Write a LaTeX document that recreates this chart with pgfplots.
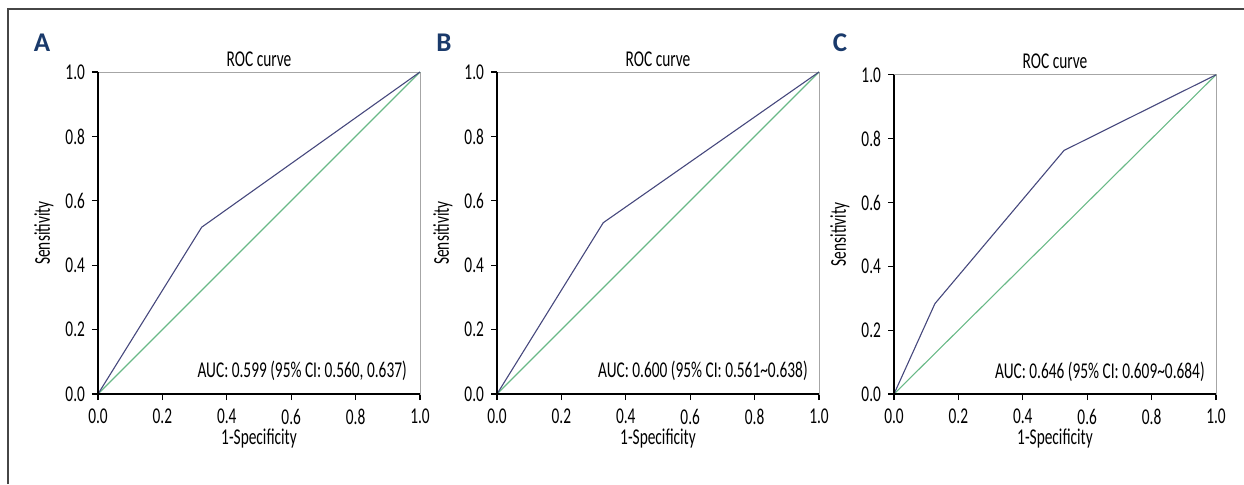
\documentclass[border=0pt]{standalone}
\usepackage{fontspec}
\setmainfont{Carlito}[FakeStretch=0.68]
\newfontfamily\lblfont{Carlito}
\usepackage{pgfplots}
\pgfplotsset{compat=1.18}

\definecolor{rocline}{RGB}{70,72,125}
\definecolor{refline}{RGB}{105,185,135}
\definecolor{lblblue}{RGB}{26,58,107}
\definecolor{framegray}{RGB}{70,70,70}

\pgfplotsset{
  rocaxis/.style={
    scale only axis, width=161pt, height=161pt,
    xmin=0, xmax=1, ymin=0, ymax=1,
    xtick={0,0.2,0.4,0.6,0.8,1}, ytick={0,0.2,0.4,0.6,0.8,1},
    xtick pos=left, ytick pos=left, tick align=outside,
    major tick length=3pt,
    every tick/.style={black, line width=0.6pt},
    axis line style={gray!70, line width=0.5pt},
    xticklabel style={yshift=-1pt},
    /pgf/number format/.cd, fixed, fixed zerofill, precision=1, assume math mode=true,
    /pgfplots/.cd,
    title={ROC curve}, xlabel={1-Specificity}, ylabel={Sensitivity},
    every axis title/.style={at={(axis description cs:0.5,1)}, anchor=base, yshift=3pt},
    every axis x label/.style={at={(axis description cs:0.5,-0.158)}, anchor=base},
    every axis y label/.style={at={(axis description cs:-0.168,0.5)}, rotate=90, anchor=center},
    clip=false,
  },
  roc/.style={rocline, line width=0.55pt},
  diag/.style={refline, line width=0.55pt},
}

\begin{document}
\begin{tikzpicture}[font=\fontsize{11.3}{13}\selectfont]
\path[use as bounding box] (0,0) rectangle (622pt,242pt);
\draw[framegray, line width=0.6pt] (4pt,0) -- (4pt,237.5pt) -- (622pt,237.5pt);

% panel A
\begin{axis}[rocaxis, at={(49pt,45pt)}, anchor=south west]
\addplot[diag] coordinates {(0,0) (1,1)};
\addplot[roc] coordinates {(0,0) (0.322,0.518) (1,1)};
\draw[black, line width=1pt] (rel axis cs:0,1) -- (rel axis cs:0,0) -- (rel axis cs:1,0);
\node[anchor=base east, inner sep=0pt] at (rel axis cs:0.96,0.05) {AUC: 0.599 (95\% CI: 0.560, 0.637)};
\end{axis}

% panel B
\begin{axis}[rocaxis, at={(248.5pt,45pt)}, anchor=south west]
\addplot[diag] coordinates {(0,0) (1,1)};
\addplot[roc] coordinates {(0,0) (0.330,0.532) (1,1)};
\draw[black, line width=1pt] (rel axis cs:0,1) -- (rel axis cs:0,0) -- (rel axis cs:1,0);
\node[anchor=base east, inner sep=0pt] at (rel axis cs:0.966,0.05) {AUC: 0.600 (95\% CI: 0.561\textasciitilde0.638)};
\end{axis}

% panel C
\begin{axis}[rocaxis, height=159.6pt, at={(447pt,45pt)}, anchor=south west]
\addplot[diag] coordinates {(0,0) (1,1)};
\addplot[roc] coordinates {(0,0) (0.127,0.283) (0.528,0.763) (1,1)};
\draw[black, line width=1pt] (rel axis cs:0,1) -- (rel axis cs:0,0) -- (rel axis cs:1,0);
\node[anchor=base east, inner sep=0pt] at (rel axis cs:0.966,0.05) {AUC: 0.646 (95\% CI: 0.609\textasciitilde0.684)};
\end{axis}

\node[lblblue, font=\lblfont\bfseries\fontsize{13.5}{14}\selectfont] at (21pt,220.5pt) {A};
\node[lblblue, font=\lblfont\bfseries\fontsize{13.5}{14}\selectfont] at (222pt,220.5pt) {B};
\node[lblblue, font=\lblfont\bfseries\fontsize{13.5}{14}\selectfont] at (420pt,220.5pt) {C};
\end{tikzpicture}
\end{document}
